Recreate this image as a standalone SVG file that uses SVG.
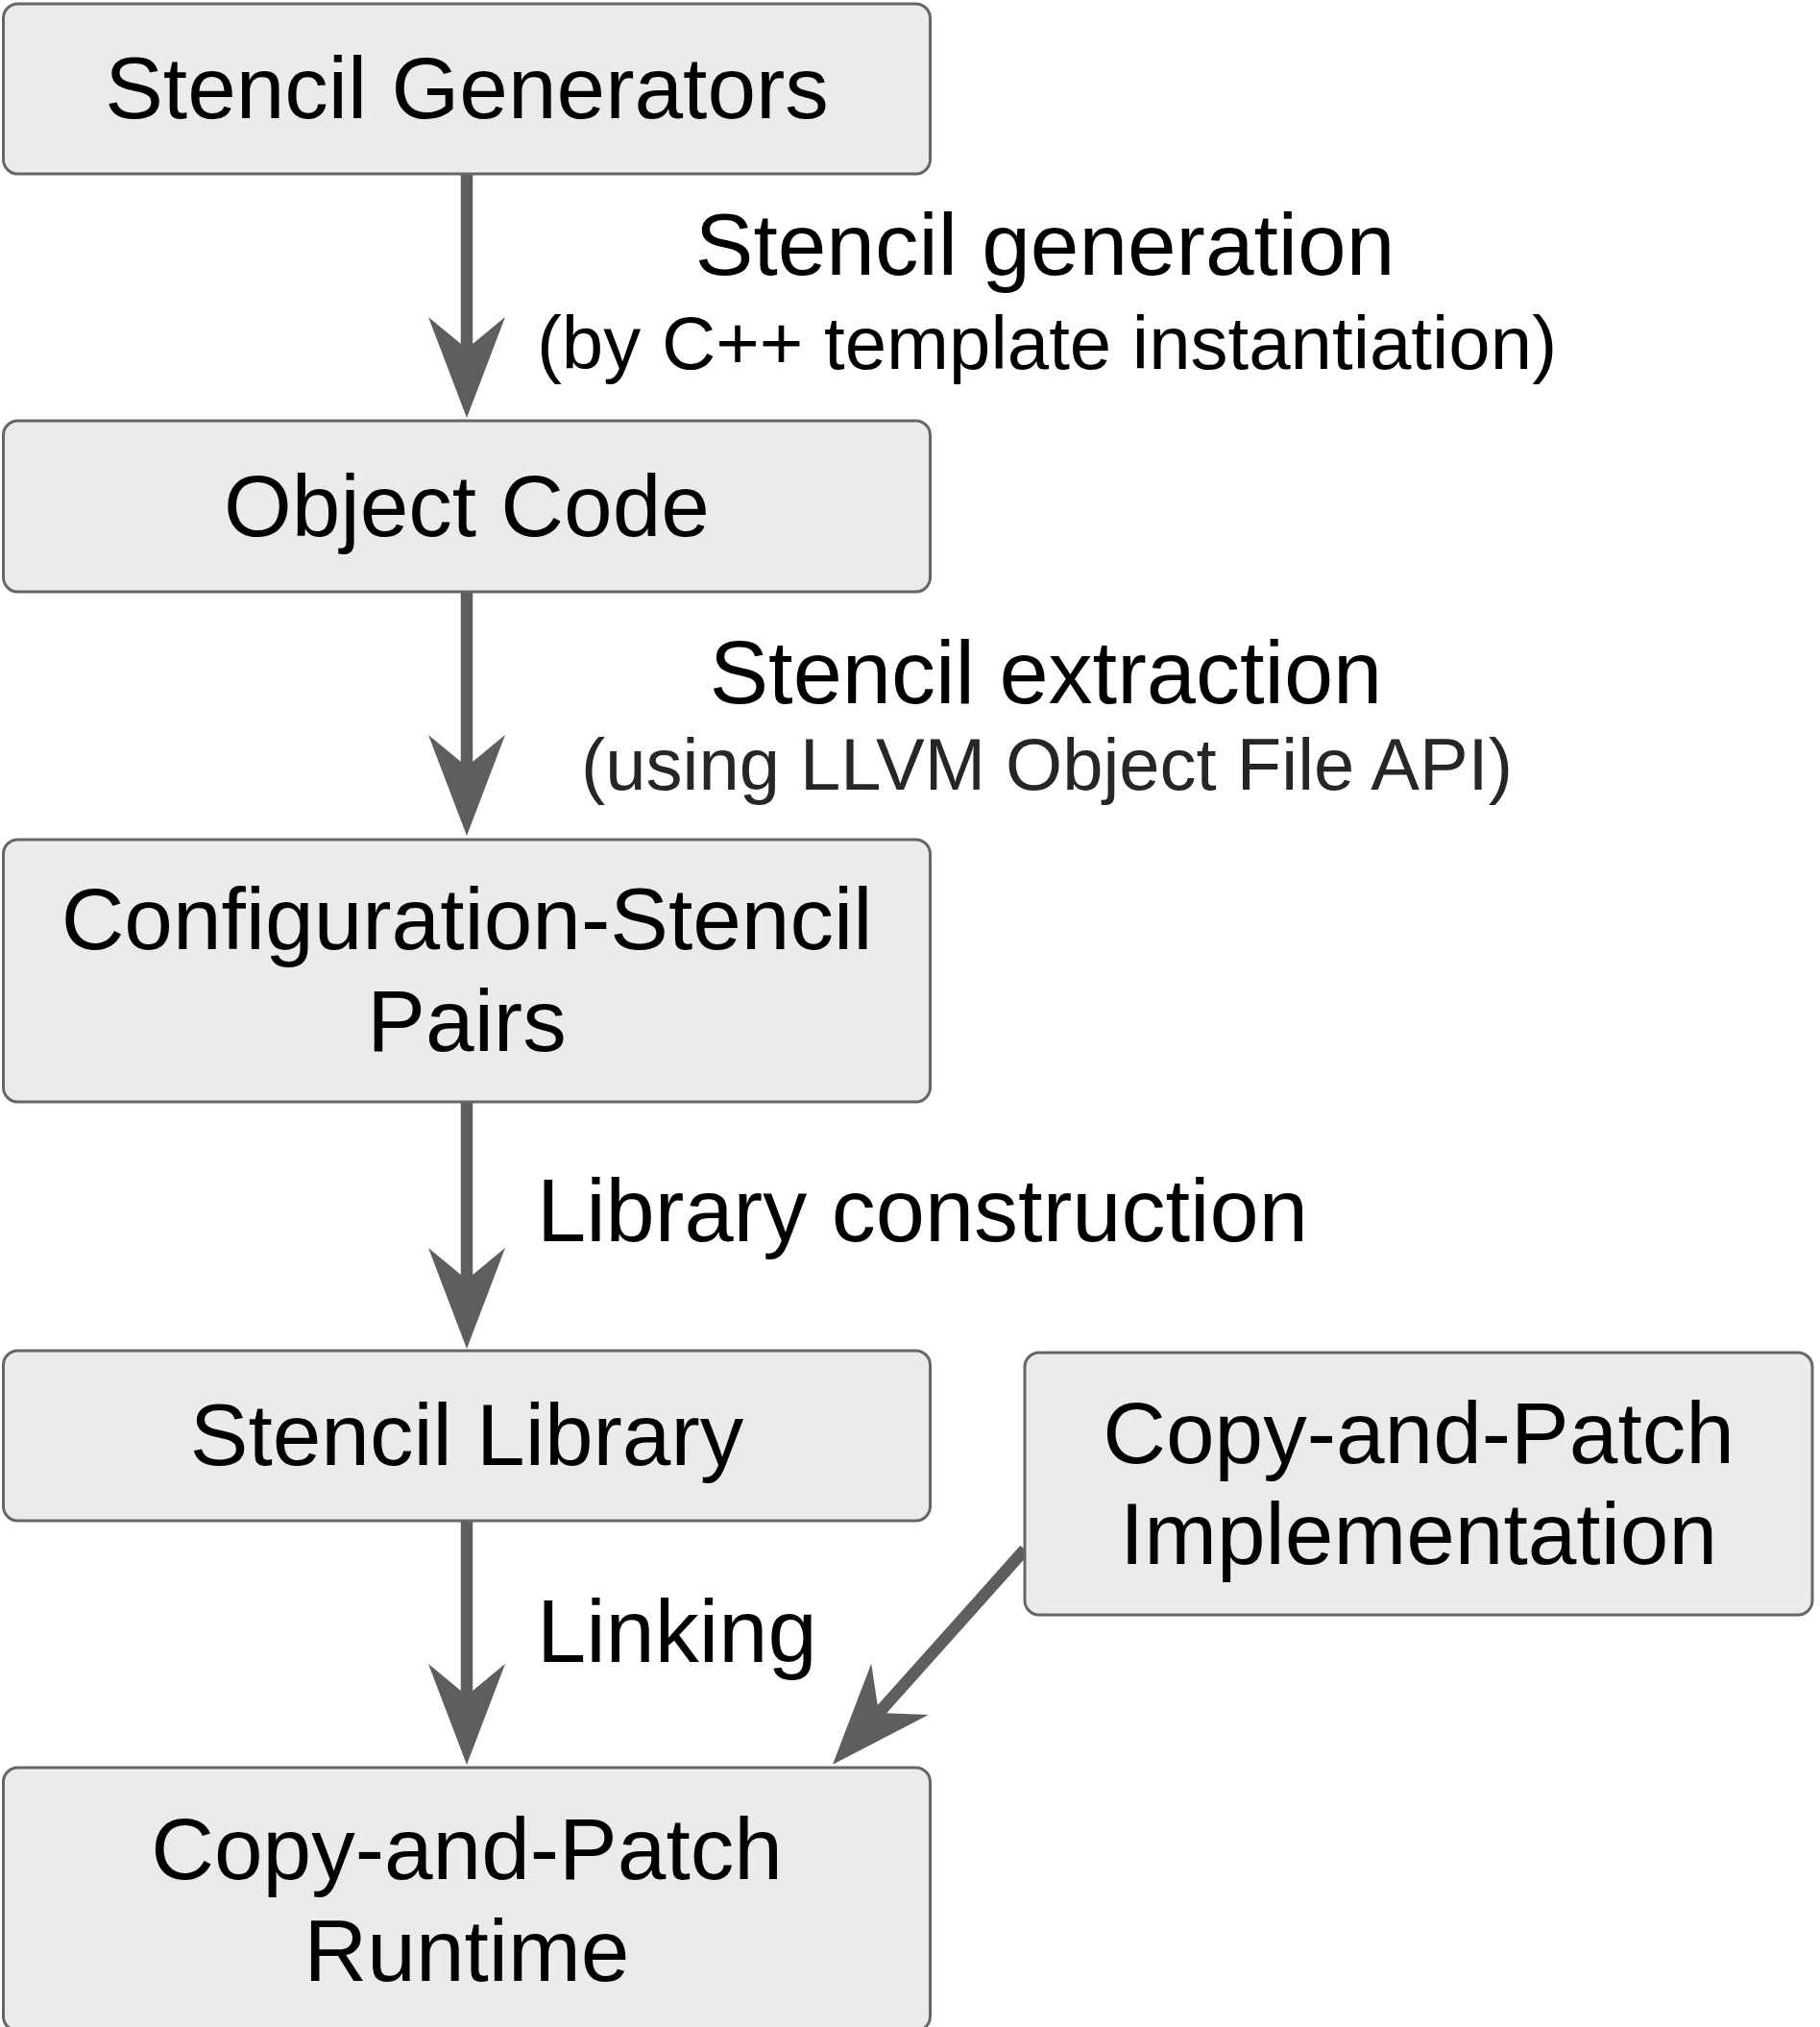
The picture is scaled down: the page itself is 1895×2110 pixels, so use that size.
<svg xmlns="http://www.w3.org/2000/svg" width="1895" height="2110" viewBox="0 0 1895 2110">
  <style>
    .box { fill: #ebebeb; stroke: #666666; stroke-width: 3; }
    .node-text { font-family: "Liberation Sans", Arial, Helvetica, sans-serif; font-size: 91px; fill: #000000; text-anchor: middle; }
    .label { font-family: "Liberation Sans", Arial, Helvetica, sans-serif; font-size: 91px; fill: #000000; }
    .sub { font-family: "Liberation Sans", Arial, Helvetica, sans-serif; font-size: 78px; text-anchor: middle; }
    .edge { stroke: #5e5e5e; stroke-width: 12.5; fill: none; stroke-linecap: butt; }
  </style>
  <defs>
    <marker id="arrow" markerUnits="userSpaceOnUse" viewBox="0 -40 105 80" refX="33" refY="0" markerWidth="105" markerHeight="80" orient="auto" overflow="visible">
      <path d="M0,-40 L105,0 L0,40 L33,0 Z" fill="#5e5e5e"/>
    </marker>
  </defs>

  <rect width="1895" height="2110" fill="#ffffff"/>

  <!-- connectors and their labels -->
  <g id="connectors">
    <line class="edge" x1="486" y1="181" x2="486" y2="363" marker-end="url(#arrow)"/>
    <line class="edge" x1="486" y1="616" x2="486" y2="798" marker-end="url(#arrow)"/>
    <line class="edge" x1="486" y1="1147" x2="486" y2="1332" marker-end="url(#arrow)"/>
    <line class="edge" x1="486" y1="1583" x2="486" y2="1765" marker-end="url(#arrow)"/>
    <line class="edge" x1="1067" y1="1613" x2="915" y2="1783" marker-end="url(#arrow)"/>

    <text class="label" x="1088" y="286" text-anchor="middle">Stencil generation</text>
    <text class="sub" x="1090" y="384" fill="#000000">(by C++ template instantiation)</text>
    <text class="label" x="1089" y="732" text-anchor="middle" style="font-size:92px">Stencil extraction</text>
    <text class="sub" x="1090" y="822" fill="#262626" style="font-size:76px">(using LLVM Object File API)</text>
    <text class="label" x="559" y="1292" style="font-size:92px">Library construction</text>
    <text class="label" x="559" y="1730" style="font-size:92px">Linking</text>
  </g>

  <!-- nodes -->
  <g id="stencil-generators">
    <rect class="box" x="3.5" y="4" width="965" height="177" rx="15"/>
    <text class="node-text" x="486" y="123">Stencil Generators</text>
  </g>

  <g id="object-code">
    <rect class="box" x="3.5" y="438" width="965" height="178" rx="15"/>
    <text class="node-text" x="486" y="558">Object Code</text>
  </g>

  <g id="configuration-stencil-pairs">
    <rect class="box" x="3.5" y="874" width="965" height="273" rx="15"/>
    <text class="node-text" x="486" y="988">Configuration-Stencil</text>
    <text class="node-text" x="486" y="1094">Pairs</text>
  </g>

  <g id="stencil-library">
    <rect class="box" x="3.5" y="1406" width="965" height="177" rx="15"/>
    <text class="node-text" x="486" y="1525">Stencil Library</text>
  </g>

  <g id="copy-and-patch-implementation">
    <rect class="box" x="1067" y="1408" width="820" height="273" rx="15"/>
    <text class="node-text" x="1477" y="1523">Copy-and-Patch</text>
    <text class="node-text" x="1477" y="1628">Implementation</text>
  </g>

  <g id="copy-and-patch-runtime">
    <rect class="box" x="3.5" y="1840" width="965" height="274" rx="15"/>
    <text class="node-text" x="486" y="1956">Copy-and-Patch</text>
    <text class="node-text" x="486" y="2062">Runtime</text>
  </g>
</svg>
